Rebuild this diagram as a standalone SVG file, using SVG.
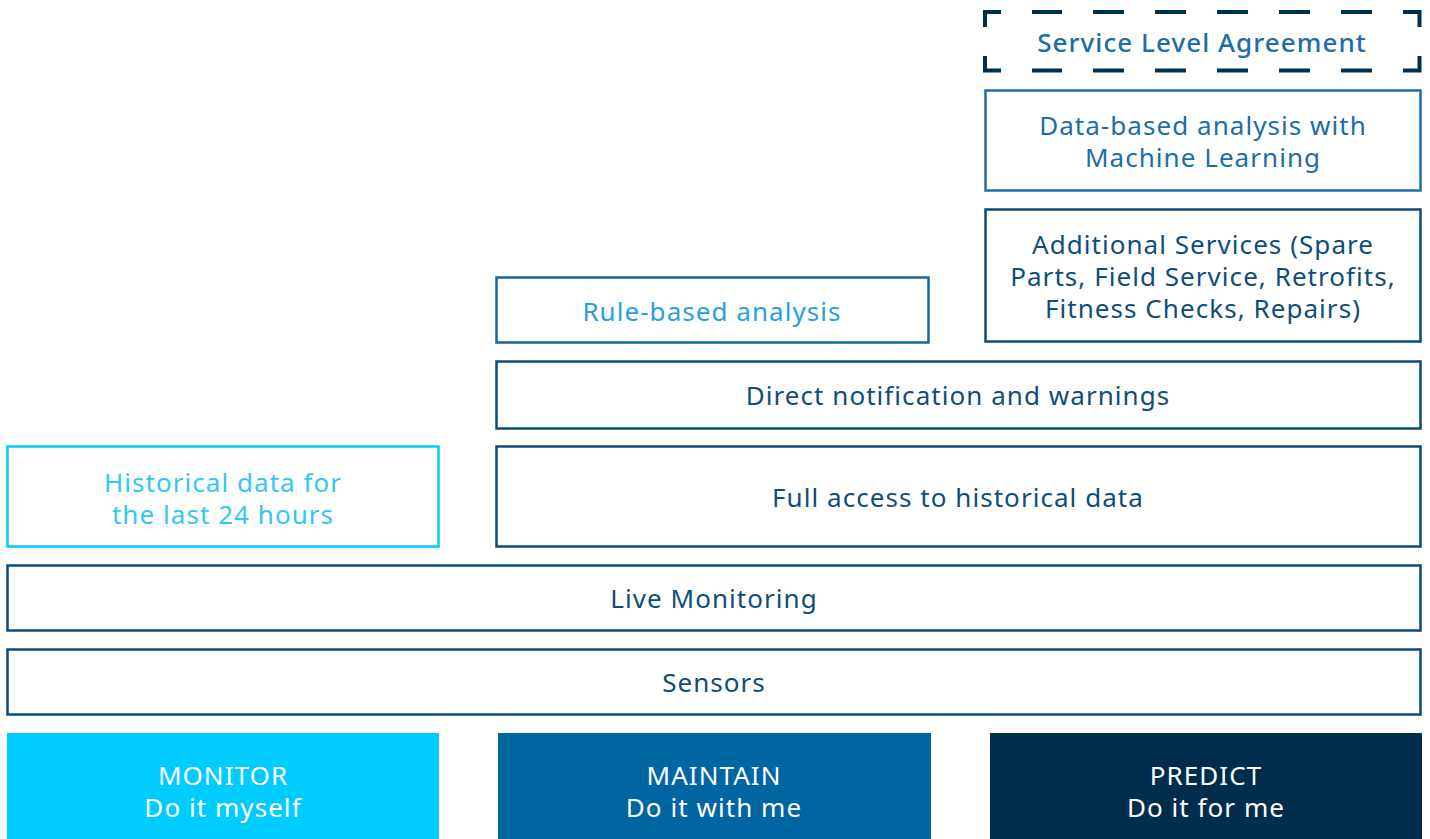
<svg xmlns="http://www.w3.org/2000/svg" width="1430" height="839" viewBox="0 0 1430 839">
<style>
.box{fill:#fff;stroke:#0B4C7A;stroke-width:2.5}
.t{font-family:"Noto Sans","Open Sans",sans-serif;font-size:26px;text-anchor:middle;letter-spacing:1.05px}
.dk{fill:#0F4D7A}
.md{fill:#1C6EA8}
.lt{fill:#2A9FDC}
.cy{fill:#33C7F2}
.wh{fill:#fff}
.dash{stroke:#00304F;stroke-width:4;fill:none}
</style>
<rect width="1430" height="839" fill="#fff"/>
<g id="sla">
<path class="dash" d="M985,27 V12 H1001 M1032,12 H1062 M1093,12 H1124 M1155,12 H1186 M1217,12 H1248 M1279,12 H1310 M1341,12 H1372 M1403,12 H1419.5 V27 M985,56 V70.5 H1001 M1032,70.5 H1062 M1093,70.5 H1124 M1155,70.5 H1186 M1217,70.5 H1248 M1279,70.5 H1310 M1341,70.5 H1372 M1403,70.5 H1419.5 V56"/>
<text class="t md" x="1202" y="52" font-weight="500">Service Level Agreement</text>
</g>
<g id="ml">
<rect class="box" x="985.5" y="90.5" width="435" height="100" style="stroke:#1E6EA6"/>
<text class="t md" x="1203" y="135">Data-based analysis with</text>
<text class="t md" x="1203" y="167">Machine Learning</text>
</g>
<g id="additional">
<rect class="box" x="985.5" y="209.5" width="435" height="132"/>
<text class="t dk" x="1203" y="254">Additional Services (Spare</text>
<text class="t dk" x="1203" y="286">Parts, Field Service, Retrofits,</text>
<text class="t dk" x="1203" y="318">Fitness Checks, Repairs)</text>
</g>
<g id="rule">
<rect class="box" x="496.5" y="277.5" width="432" height="65" style="stroke:#1468A3"/>
<text class="t lt" x="712" y="321">Rule-based analysis</text>
</g>
<g id="notif">
<rect class="box" x="496.5" y="361.5" width="924" height="67"/>
<text class="t dk" x="958" y="405">Direct notification and warnings</text>
</g>
<g id="full">
<rect class="box" x="496.5" y="446.5" width="924" height="100"/>
<text class="t dk" x="958" y="507">Full access to historical data</text>
</g>
<g id="hist24">
<rect class="box" x="7.5" y="446.5" width="431" height="100" style="stroke:#00CCFF"/>
<text class="t cy" x="223" y="492">Historical data for</text>
<text class="t cy" x="223" y="524">the last 24 hours</text>
</g>
<g id="live">
<rect class="box" x="7.5" y="565.5" width="1413" height="65"/>
<text class="t dk" x="714" y="608">Live Monitoring</text>
</g>
<g id="sensors">
<rect class="box" x="7.5" y="649.5" width="1413" height="65"/>
<text class="t dk" x="714" y="692">Sensors</text>
</g>
<g id="monitor">
<rect x="7" y="733" width="432" height="106" fill="#00CCFF"/>
<text class="t wh" x="223" y="785">MONITOR</text>
<text class="t wh" x="223" y="817">Do it myself</text>
</g>
<g id="maintain">
<rect x="498" y="733" width="433" height="106" fill="#0066A1"/>
<text class="t wh" x="714" y="785">MAINTAIN</text>
<text class="t wh" x="714" y="817">Do it with me</text>
</g>
<g id="predict">
<rect x="990" y="733" width="432" height="106" fill="#002D4C"/>
<text class="t wh" x="1206" y="785">PREDICT</text>
<text class="t wh" x="1206" y="817">Do it for me</text>
</g>
<g id="connectors"/>
</svg>
